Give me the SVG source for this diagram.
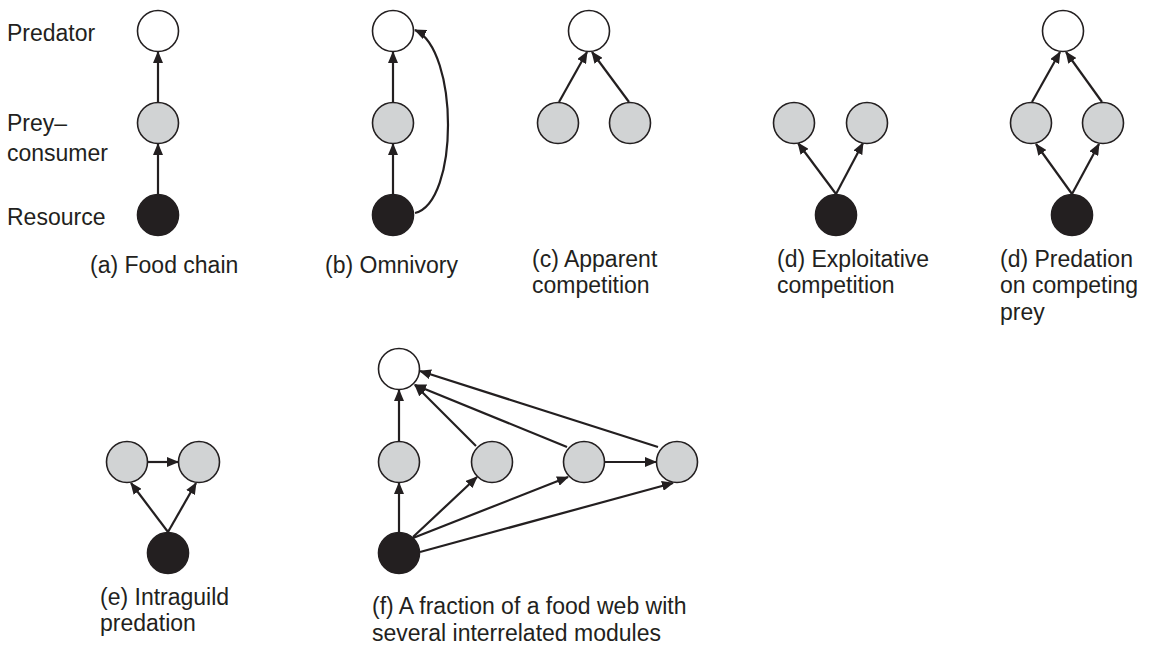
<svg xmlns="http://www.w3.org/2000/svg" width="1153" height="645" viewBox="0 0 1153 645">
<style>
  text { font-family: "Liberation Sans", Arial, sans-serif; font-size: 23px; fill: #231f20; }
  .pred { fill: #ffffff; stroke: #231f20; stroke-width: 1.6; }
  .prey { fill: #d1d3d4; stroke: #231f20; stroke-width: 1.6; }
  .res { fill: #231f20; stroke: #231f20; stroke-width: 1.6; }
  .edge { fill: none; stroke: #231f20; stroke-width: 2.2; marker-end: url(#ah); }
</style>
<defs>
  <marker id="ah" markerUnits="userSpaceOnUse" markerWidth="12" markerHeight="10" refX="11" refY="5" orient="auto">
    <path d="M0,0 L12,5 L0,10 z" fill="#231f20"/>
  </marker>
</defs>
<rect width="1153" height="645" fill="#ffffff"/>

<g id="connectors">
  <!-- (a) -->
  <line class="edge" x1="158" y1="194" x2="158" y2="144"/>
  <line class="edge" x1="158" y1="102" x2="158" y2="52"/>
  <!-- (b) -->
  <line class="edge" x1="393" y1="194" x2="393" y2="144"/>
  <line class="edge" x1="393" y1="102" x2="393" y2="52"/>
  <path class="edge" d="M415,213 C459,202 459,50 415,30"/>
  <!-- (c) -->
  <line class="edge" x1="559" y1="102" x2="587" y2="52"/>
  <line class="edge" x1="629" y1="102" x2="592" y2="52"/>
  <!-- (d) exploitative -->
  <line class="edge" x1="836" y1="194" x2="798" y2="143"/>
  <line class="edge" x1="836" y1="194" x2="863" y2="143"/>
  <!-- (d) predation -->
  <line class="edge" x1="1032" y1="102" x2="1060" y2="52"/>
  <line class="edge" x1="1102" y1="102" x2="1066" y2="52"/>
  <line class="edge" x1="1072" y1="194" x2="1036" y2="144"/>
  <line class="edge" x1="1072" y1="194" x2="1099" y2="144"/>
  <!-- (e) -->
  <line class="edge" x1="148" y1="462" x2="178" y2="462"/>
  <line class="edge" x1="168" y1="532" x2="131" y2="483"/>
  <line class="edge" x1="168" y1="532" x2="196" y2="483"/>
  <!-- (f) -->
  <line class="edge" x1="399" y1="532" x2="399" y2="483"/>
  <line class="edge" x1="399" y1="441" x2="399" y2="390"/>
  <line class="edge" x1="476" y1="446" x2="415" y2="385"/>
  <line class="edge" x1="567" y1="447" x2="415" y2="385"/>
  <line class="edge" x1="658" y1="447" x2="420" y2="371"/>
  <line class="edge" x1="413" y1="537" x2="477" y2="477"/>
  <line class="edge" x1="413" y1="538" x2="568" y2="477"/>
  <line class="edge" x1="420" y1="552" x2="673" y2="483"/>
  <line class="edge" x1="605" y1="462" x2="656" y2="462"/>
</g>

<g id="a-food-chain">
  <circle id="a-predator" class="pred" cx="158" cy="31" r="20.5"/>
  <circle id="a-prey" class="prey" cx="158" cy="123" r="20.5"/>
  <circle id="a-resource" class="res" cx="158" cy="215" r="20.5"/>
  <text x="90" y="273">(a) Food chain</text>
</g>
<g id="row-labels">
  <text x="7" y="41">Predator</text>
  <text x="7" y="131">Prey–</text>
  <text x="7" y="161">consumer</text>
  <text x="7" y="225">Resource</text>
</g>

<g id="b-omnivory">
  <circle id="b-predator" class="pred" cx="393" cy="31" r="20.5"/>
  <circle id="b-prey" class="prey" cx="393" cy="123" r="20.5"/>
  <circle id="b-resource" class="res" cx="393" cy="215" r="20.5"/>
  <text x="325" y="273">(b) Omnivory</text>
</g>

<g id="c-apparent">
  <circle id="c-predator" class="pred" cx="589" cy="31" r="20.5"/>
  <circle id="c-prey1" class="prey" cx="558" cy="123" r="20.5"/>
  <circle id="c-prey2" class="prey" cx="630" cy="123" r="20.5"/>
  <text x="532" y="267">(c) Apparent</text>
  <text x="532" y="293">competition</text>
</g>

<g id="d-exploitative">
  <circle id="d-prey1" class="prey" cx="794" cy="123" r="20.5"/>
  <circle id="d-prey2" class="prey" cx="867" cy="123" r="20.5"/>
  <circle id="d-resource" class="res" cx="836" cy="215" r="20.5"/>
  <text x="777" y="267">(d) Exploitative</text>
  <text x="777" y="293">competition</text>
</g>

<g id="d-predation">
  <circle id="dp-predator" class="pred" cx="1063" cy="31" r="20.5"/>
  <circle id="dp-prey1" class="prey" cx="1031" cy="123" r="20.5"/>
  <circle id="dp-prey2" class="prey" cx="1103" cy="123" r="20.5"/>
  <circle id="dp-resource" class="res" cx="1072" cy="215" r="20.5"/>
  <text x="1000" y="267">(d) Predation</text>
  <text x="1000" y="293">on competing</text>
  <text x="1000" y="320">prey</text>
</g>

<g id="e-intraguild">
  <circle id="e-prey1" class="prey" cx="127" cy="462" r="20.5"/>
  <circle id="e-prey2" class="prey" cx="199" cy="462" r="20.5"/>
  <circle id="e-resource" class="res" cx="168" cy="553" r="20.5"/>
  <text x="100" y="605">(e) Intraguild</text>
  <text x="100" y="631">predation</text>
</g>

<g id="f-food-web">
  <circle id="f-predator" class="pred" cx="399" cy="369" r="20.5"/>
  <circle id="f-prey1" class="prey" cx="399" cy="462" r="20.5"/>
  <circle id="f-prey2" class="prey" cx="492" cy="462" r="20.5"/>
  <circle id="f-prey3" class="prey" cx="584" cy="462" r="20.5"/>
  <circle id="f-prey4" class="prey" cx="677" cy="462" r="20.5"/>
  <circle id="f-resource" class="res" cx="399" cy="553" r="20.5"/>
  <text x="372" y="614">(f) A fraction of a food web with</text>
  <text x="372" y="641">several interrelated modules</text>
</g>
</svg>
